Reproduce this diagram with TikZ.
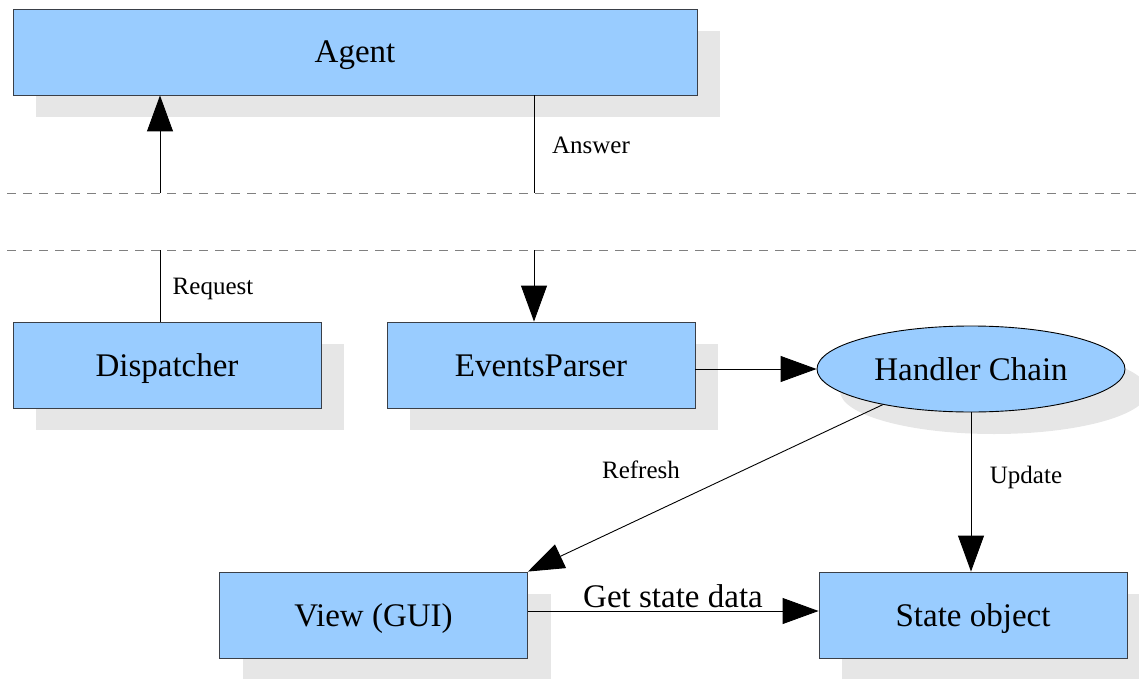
\documentclass[tikz,border=0pt]{standalone}
\usepackage{fontspec}
\setmainfont{Liberation Serif}
\usepackage{xcolor}
\usepackage{tikz}
\usetikzlibrary{arrows.meta,shapes.geometric,shadows}

\definecolor{boxblue}{HTML}{99CCFF}
\definecolor{shadowgrey}{HTML}{E6E6E6}
\definecolor{framegrey}{HTML}{3A3F47}

\tikzset{
  blockshadow/.style={drop shadow={shadow xshift=23pt, shadow yshift=-22pt,
      opacity=1, fill=shadowgrey}},
  box/.style={draw=framegrey, fill=boxblue, line width=0.9pt, blockshadow,
      minimum width=308pt, minimum height=86pt, inner sep=0pt,
      text height=22pt, text depth=0pt,
      font=\fontsize{33}{38}\selectfont},
  oval/.style={ellipse, draw=black, fill=boxblue, line width=0.9pt, blockshadow,
      minimum width=308pt, minimum height=86pt, inner sep=0pt,
      text height=22pt, text depth=0pt,
      font=\fontsize{33}{38}\selectfont},
  msg/.style={font=\fontsize{25}{30}\selectfont, inner sep=0pt},
  flow/.style={line width=0.9pt, -{Triangle[length=36pt, width=26pt]}},
  wire/.style={line width=0.9pt},
  divider/.style={gray, line width=0.9pt, dash pattern=on 9pt off 7pt}
}

\begin{document}
\begin{tikzpicture}[x=1pt, y=-1pt]
  \useasboundingbox (0,0) rectangle (1139,679);

  % network boundary
  \draw[divider] (7,193) -- (1139,193);
  \draw[divider] (7,250) -- (1139,250);

  % remote side
  \node[box, minimum width=684pt] (Agent) at (355,52) {Agent};

  % local blocks
  \node[box] (Dispatcher) at (167,365) {Dispatcher};
  \node[box] (EventsParser) at (541,365) {EventsParser};
  \node[oval] (Handler) at (971,369) {Handler Chain};
  \node[box] (View) at (373.5,615) {View (GUI)};
  \node[box] (State) at (973,615) {State object};

  % where the links cross the boundary
  \coordinate (req top) at (160,193);
  \coordinate (req bottom) at (160,250);
  \coordinate (ans top) at (534,193);
  \coordinate (ans bottom) at (534,250);

  % request: dispatcher -> agent
  \draw[wire] (Dispatcher.north -| req bottom) -- (req bottom);
  \draw[flow] (req top) -- (req top |- Agent.south);
  \node[msg] (request label) at (213,289) {Request};

  % answer: agent -> parser
  \draw[wire] (ans top |- Agent.south) -- (ans top);
  \draw[flow] (ans bottom) -- (ans bottom |- EventsParser.north);
  \node[msg] (answer label) at (591,145) {Answer};

  % event handling
  \draw[flow] (EventsParser.east |- Handler.west) -- (Handler.west);
  \draw[flow] (Handler.202) -- (View.north east);
  \node[msg] (refresh label) at (641,470) {Refresh};
  \draw[flow] (Handler.south) -- (Handler.south |- State.north);
  \node[msg] (update label) at (1026,477) {Update};

  % view reads the state
  \draw[flow] ([yshift=4pt]View.east) -- ([yshift=4pt]State.west);
  \node[font=\fontsize{33}{38}\selectfont, inner sep=0pt] (get label) at (673,596) {Get state data};
\end{tikzpicture}
\end{document}
